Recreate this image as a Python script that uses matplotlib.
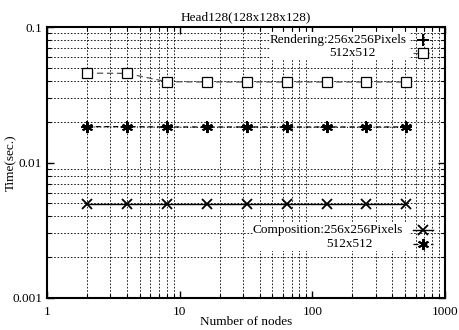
import numpy as np
import matplotlib.pyplot as plt
from matplotlib.ticker import LogLocator, NullFormatter, FixedLocator, FixedFormatter
from matplotlib.patches import Rectangle

# data
nodes = [2, 4, 8, 16, 32, 64, 128, 256, 512]
render_256 = [0.0183, 0.0183, 0.0182, 0.0182, 0.0182, 0.0182, 0.0182, 0.0182, 0.0182]
render_512 = [0.0457, 0.0455, 0.0395, 0.0393, 0.0393, 0.0393, 0.0393, 0.0393, 0.0393]
comp_256 = [0.00494, 0.00494, 0.00494, 0.00494, 0.00494, 0.00494, 0.00494, 0.00494, 0.00494]
comp_512 = [0.0184, 0.0184, 0.0183, 0.0183, 0.0183, 0.0183, 0.0183, 0.0183, 0.0183]

plt.rcParams['font.family'] = ['Liberation Serif', 'DejaVu Serif']
plt.rcParams['font.size'] = 9.5

fig = plt.figure(figsize=(4.59, 3.30), dpi=100)
ax = fig.add_axes([0.1024, 0.097, 0.8671, 0.821])

# line styles, one per series
styles = [
    dict(color='black', ls=(0, (1, 2)), lw=0.8, marker='+', ms=8, mew=1.4, mfc='none'),
    dict(color='#555555', ls=(0, (5, 3)), lw=0.9, marker='s', ms=6.5, mew=0.9, mfc='white', mec='black'),
    dict(color='black', ls='-', lw=1.0, marker='x', ms=6.5, mew=1.3),
    dict(color='black', ls=(0, (4, 3)), lw=0.9, marker=(6, 2, 0), ms=8, mew=1.4),
]
series = [render_256, render_512, comp_256, comp_512]
for vals, st in zip(series, styles):
    ax.plot(nodes, vals, zorder=3, **st)

ax.set_xscale('log')
ax.set_yscale('log')
ax.set_xlim(1, 1000)
ax.set_ylim(0.001, 0.1)

ax.xaxis.set_major_locator(FixedLocator([1, 10, 100, 1000]))
ax.xaxis.set_major_formatter(FixedFormatter(['1', '10', '100', '1000']))
ax.yaxis.set_major_locator(FixedLocator([0.001, 0.01, 0.1]))
ax.yaxis.set_major_formatter(FixedFormatter(['0.001', '0.01', '0.1']))
ax.xaxis.set_minor_locator(LogLocator(base=10, subs=np.arange(2, 10)))
ax.yaxis.set_minor_locator(LogLocator(base=10, subs=np.arange(2, 10)))
ax.xaxis.set_minor_formatter(NullFormatter())
ax.yaxis.set_minor_formatter(NullFormatter())

ax.tick_params(which='both', direction='in', top=True, right=True, labelsize=9.5)
ax.tick_params(which='major', length=5, width=1)
ax.tick_params(which='minor', length=3, width=0.8)
ax.tick_params(axis='x', pad=6)
ax.grid(which='minor', color='black', ls=(0, (2, 2)), lw=0.6)
for s in ax.spines.values():
    s.set_linewidth(1.5)

ax.set_title('Head128(128x128x128)', fontsize=9.5, pad=5)
ax.set_xlabel('Number of nodes', fontsize=9.5, va='center')
ax.set_ylabel('Time(sec.)', fontsize=9.5, va='center')
ax.xaxis.set_label_coords(0.5, -0.088)
ax.yaxis.set_label_coords(-0.09, 0.5)

# gnuplot-style keys: right-justified text, sample on the right
keys = [
    ('Rendering:256x256Pixels', 0.9045, 0.952, 0),
    ('512x512', 0.8266, 0.904, 1),
    ('Composition:256x256Pixels', 0.894, 0.251, 2),
    ('512x512', 0.817, 0.199, 3),
]
ax.add_patch(Rectangle((0.56, 0.88), 0.35, 0.1, transform=ax.transAxes,
                       facecolor='white', edgecolor='none', zorder=2.5))
ax.add_patch(Rectangle((0.52, 0.175), 0.39, 0.1, transform=ax.transAxes,
                       facecolor='white', edgecolor='none', zorder=2.5))
for label, tx, ty, i in keys:
    ax.text(tx, ty, label, transform=ax.transAxes, ha='right', va='center',
            fontsize=9.5, zorder=4)
    ax.plot([0.92, 0.97], [ty, ty], transform=ax.transAxes, zorder=4,
            clip_on=False, **{k: v for k, v in styles[i].items() if k not in ('marker', 'ms', 'mew', 'mfc', 'mec')})
    ax.plot([0.945], [ty], transform=ax.transAxes, zorder=5, ls='none',
            **{k: v for k, v in styles[i].items() if k in ('marker', 'ms', 'mew', 'mfc', 'mec', 'color')})

fig.savefig('out.png', dpi=100)
